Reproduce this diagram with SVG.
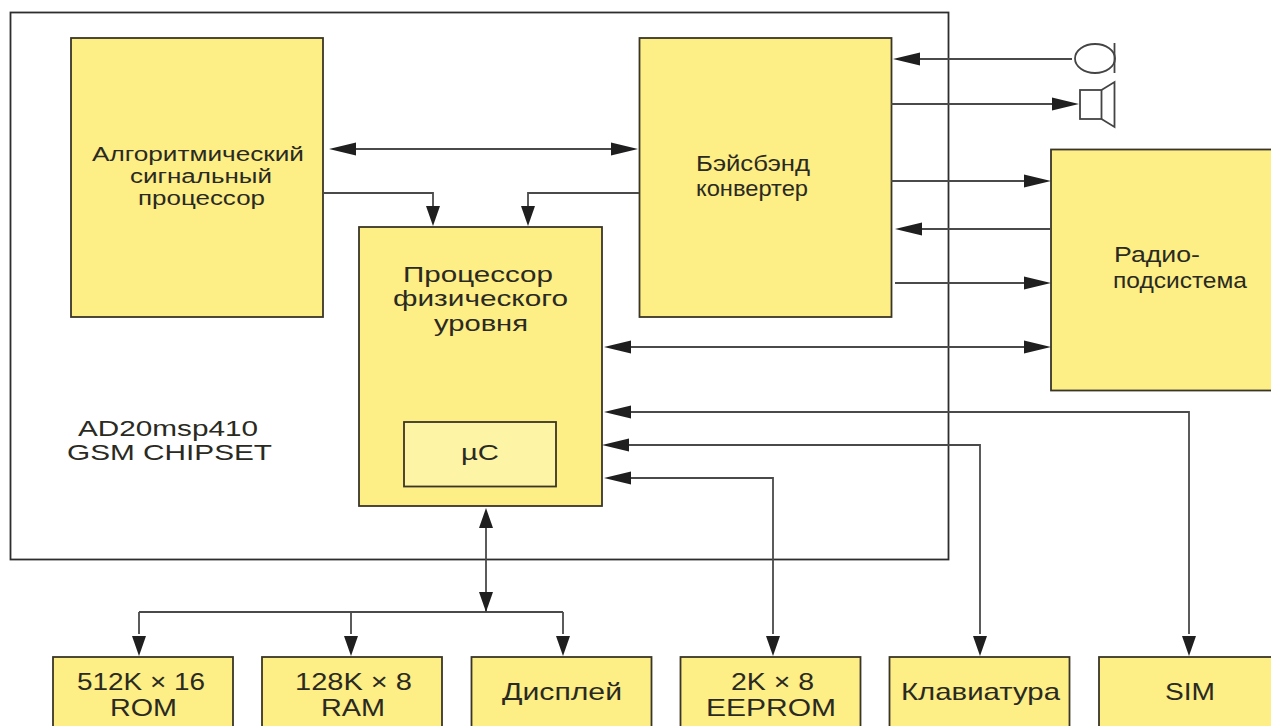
<svg xmlns="http://www.w3.org/2000/svg" width="1271" height="726" viewBox="0 0 1271 726">
<style>
.b{fill:#fdee86;stroke:#3a3526;stroke-width:1.8}
.c{fill:#fdf4a6;stroke:#3a3526;stroke-width:1.8}
.t{font-family:"Liberation Sans",Arial,sans-serif;font-size:22px;fill:#2a2a22;text-anchor:start}
.u{font-size:24px}
.s{font-size:20px}
.l{fill:none;stroke:#4a4a4a;stroke-width:1.8}
.a{fill:#1f1f1f;stroke:none}
</style>
<defs>
<path id="ar" class="a" d="M0 0L-27 -6.500V6.500Z"/>
<path id="av" class="a" d="M0 0L-20 -7V7Z"/>
</defs>
<rect width="1271" height="726" fill="#fff"/>
<g id="chipset">
<rect x="10.500" y="12.500" width="938" height="547" fill="#fff" stroke="#2d2d2d" stroke-width="1.800"/>
<text class="t" x="78" y="436" textLength="180" lengthAdjust="spacingAndGlyphs">AD20msp410</text>
<text class="t" x="67" y="460" textLength="205" lengthAdjust="spacingAndGlyphs">GSM CHIPSET</text>
</g>
<g id="dsp">
<rect class="b" x="71" y="38" width="252" height="279"/>
<text class="t s" x="92" y="161" textLength="212" lengthAdjust="spacingAndGlyphs">Алгоритмический</text>
<text class="t s" x="130" y="183" textLength="142" lengthAdjust="spacingAndGlyphs">сигнальный</text>
<text class="t s" x="138" y="205" textLength="127" lengthAdjust="spacingAndGlyphs">процессор</text>
</g>
<g id="baseband">
<rect class="b" x="639.500" y="38" width="252" height="279"/>
<text class="t" x="696" y="171" textLength="114" lengthAdjust="spacingAndGlyphs">Бэйсбэнд</text>
<text class="t" x="696" y="196" textLength="112" lengthAdjust="spacingAndGlyphs">конвертер</text>
</g>
<g id="radio">
<rect class="b" x="1051" y="149.500" width="222" height="241"/>
<text class="t" x="1114" y="262" textLength="86" lengthAdjust="spacingAndGlyphs">Радио-</text>
<text class="t" x="1113" y="288" textLength="134" lengthAdjust="spacingAndGlyphs">подсистема</text>
</g>
<g id="phy">
<rect class="b" x="359" y="227" width="243" height="279"/>
<text class="t" x="403" y="282" textLength="150" lengthAdjust="spacingAndGlyphs">Процессор</text>
<text class="t" x="393" y="306" textLength="175" lengthAdjust="spacingAndGlyphs">физического</text>
<text class="t" x="434" y="331" textLength="94" lengthAdjust="spacingAndGlyphs">уровня</text>
</g>
<g id="uc">
<rect class="c" x="404" y="422" width="152" height="64.500"/>
<text class="t" x="461" y="460" textLength="38" lengthAdjust="spacingAndGlyphs">µC</text>
</g>
<g id="rom">
<rect class="b" x="53" y="657" width="180" height="75"/>
<text class="t u" x="77" y="690" textLength="128" lengthAdjust="spacingAndGlyphs">512K × 16</text>
<text class="t u" x="110" y="716" textLength="67" lengthAdjust="spacingAndGlyphs">ROM</text>
</g>
<g id="ram">
<rect class="b" x="262" y="657" width="180" height="75"/>
<text class="t u" x="295" y="690" textLength="117" lengthAdjust="spacingAndGlyphs">128K × 8</text>
<text class="t u" x="321" y="716" textLength="64" lengthAdjust="spacingAndGlyphs">RAM</text>
</g>
<g id="display">
<rect class="b" x="471.500" y="657" width="180" height="75"/>
<text class="t u" x="502" y="700" textLength="120" lengthAdjust="spacingAndGlyphs">Дисплей</text>
</g>
<g id="eeprom">
<rect class="b" x="680.500" y="657" width="180" height="75"/>
<text class="t u" x="731" y="690" textLength="83" lengthAdjust="spacingAndGlyphs">2K × 8</text>
<text class="t u" x="706" y="716" textLength="130" lengthAdjust="spacingAndGlyphs">EEPROM</text>
</g>
<g id="keyboard">
<rect class="b" x="889.500" y="657" width="180" height="75"/>
<text class="t u" x="901" y="700" textLength="159" lengthAdjust="spacingAndGlyphs">Клавиатура</text>
</g>
<g id="sim">
<rect class="b" x="1099" y="657" width="180" height="75"/>
<text class="t u" x="1165" y="700" textLength="50" lengthAdjust="spacingAndGlyphs">SIM</text>
</g>
<g id="mic" fill="none" stroke="#444" stroke-width="1.800">
<ellipse cx="1095" cy="58.500" rx="20" ry="14.500"/>
<path d="M1114.500 43V73"/>
</g>
<g id="speaker" fill="none" stroke="#444" stroke-width="1.800">
<rect x="1080" y="90" width="21.500" height="29"/>
<path d="M1101.500 90L1114.500 82V127L1101.500 119"/>
</g>
<g id="connectors">
<path class="l" d="M918 59H1072M891 104H1055M345 149H615M323 193H433V206M639 193H528V206M891 181H1030M920 229H1050M895 283H1030M628 347H1026M628 412H1189V634M628 445H980V634M628 478H773V634M486 525V612M139 612H563M139 612V634M351 612V634M563 612V634"/>
<use href="#ar" transform="translate(893 59) rotate(180)"/>
<use href="#ar" transform="translate(1079 104)"/>
<use href="#ar" transform="translate(329 149) rotate(180)"/>
<use href="#ar" transform="translate(638 149)"/>
<use href="#av" transform="translate(433 226) rotate(90)"/>
<use href="#av" transform="translate(528 226) rotate(90)"/>
<use href="#ar" transform="translate(1051 181)"/>
<use href="#ar" transform="translate(895 229) rotate(180)"/>
<use href="#ar" transform="translate(1051 283)"/>
<use href="#ar" transform="translate(604 347) rotate(180)"/>
<use href="#ar" transform="translate(1051 347)"/>
<use href="#ar" transform="translate(604 412) rotate(180)"/>
<use href="#ar" transform="translate(602 445) rotate(180)"/>
<use href="#ar" transform="translate(604 478) rotate(180)"/>
<use href="#av" transform="translate(486 508) rotate(-90)"/>
<use href="#av" transform="translate(486 612) rotate(90)"/>
<use href="#av" transform="translate(139 656) rotate(90)"/>
<use href="#av" transform="translate(351 656) rotate(90)"/>
<use href="#av" transform="translate(563 656) rotate(90)"/>
<use href="#av" transform="translate(773 656) rotate(90)"/>
<use href="#av" transform="translate(980 656) rotate(90)"/>
<use href="#av" transform="translate(1189 656) rotate(90)"/>
</g>
</svg>
